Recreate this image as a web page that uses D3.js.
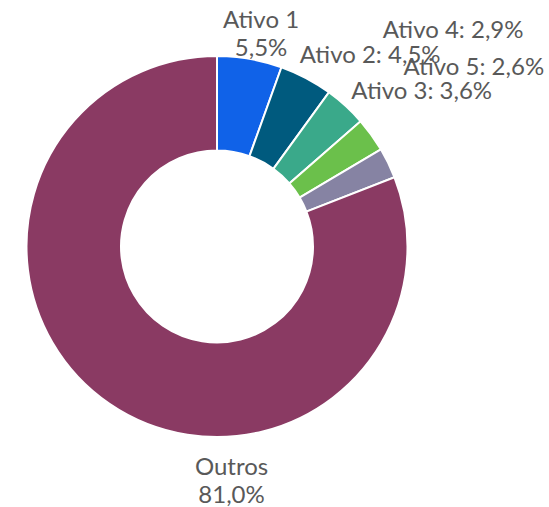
<!DOCTYPE html>
<html>
<head>
<meta charset="utf-8">
<script src="https://cdn.jsdelivr.net/npm/d3@7"></script>
<style>
  body { margin: 0; background: #fff; }
  text { font-family: Lato, "Open Sans", sans-serif; }
</style>
</head>
<body>
<div class="donut"></div>
<script>
// data
const names = ["Ativo 1", "Ativo 2", "Ativo 3", "Ativo 4", "Ativo 5", "Outros"];
const values = [5.5, 4.5, 3.6, 2.9, 2.6, 81.0];
const colors = ["#1062e8", "#005a7e", "#3aa98a", "#6bc04b", "#8683a3", "#8a3a63"];

// label layout: two-line or one-line, nudges from the arc point
const twoLine = [true, false, false, false, false, true];
const nudge = [[8, -12], [55, 2], [63, 7], [66, -85], [68, -79], [133, 55]];

const size = { width: 549, height: 507 };
const center = { x: 217, y: 246.5 };
const radius = { outer: 190.5, inner: 96, label: 210 };

const svg = d3.select(".donut")
    .append("svg")
    .attr("width", size.width)
    .attr("height", size.height);

const g = svg.append("g")
    .attr("transform", `translate(${center.x},${center.y})`);

const datos = names.map((n, i) => ({ name: n, value: values[i], color: colors[i], i: i }));

const pie = d3.pie().sort(null).value((d) => d.value);
const arcos = pie(datos);

const arco = d3.arc()
    .innerRadius(radius.inner)
    .outerRadius(radius.outer);

g.selectAll("path")
    .data(arcos)
    .enter()
    .append("path")
    .attr("d", arco)
    .attr("fill", (d) => d.data.color)
    .attr("stroke", "#fff")
    .attr("stroke-width", 2);

const fmt = (v) => v.toFixed(1).replace(".", ",") + "%";

const etiquetas = g.selectAll("text")
    .data(arcos)
    .enter()
    .append("text")
    .attr("text-anchor", "middle")
    .attr("font-size", 24)
    .attr("fill", "#595959")
    .attr("transform", (d) => {
        const a = (d.startAngle + d.endAngle) / 2;
        const x = Math.sin(a) * radius.label + nudge[d.data.i][0];
        const y = -Math.cos(a) * radius.label + nudge[d.data.i][1];
        return `translate(${x},${y})`;
    });

etiquetas.each(function (d) {
    const t = d3.select(this);
    if (twoLine[d.data.i]) {
        t.append("tspan").attr("x", 0).attr("y", 0).text(d.data.name);
        t.append("tspan").attr("x", 0).attr("y", 28).text(fmt(d.data.value));
    } else {
        t.text(`${d.data.name}: ${fmt(d.data.value)}`);
    }
});
</script>
</body>
</html>
